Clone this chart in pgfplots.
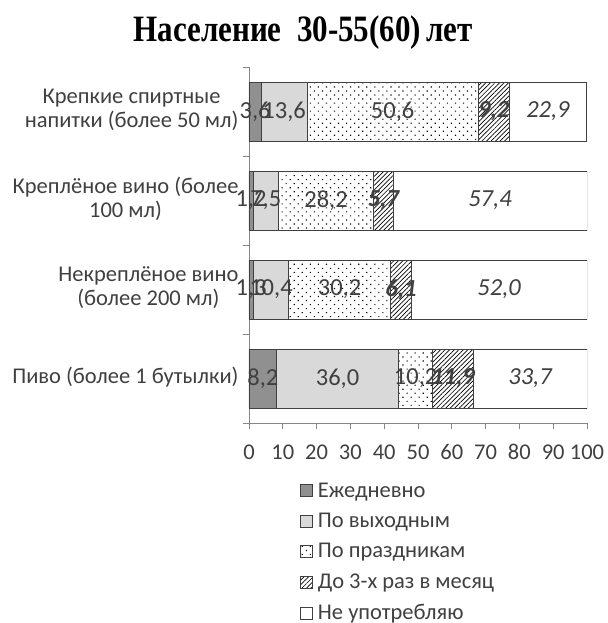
\documentclass[border=0pt]{standalone}
\usepackage{fontspec}
\setmainfont{Carlito}
\newfontfamily\titlefont{Liberation Serif}
\usepackage{pgfplots}
\pgfplotsset{compat=1.18}
\usepackage{pgfplotstable}
\usetikzlibrary{patterns.meta}
\newcommand\f{\fontsize{22.5bp}{24bp}\selectfont}
\newcommand\fb{\fontsize{24.5bp}{26bp}\selectfont}
\definecolor{labc}{HTML}{404040}
\definecolor{daily}{HTML}{909090}
\definecolor{wkend}{HTML}{D9D9D9}
\definecolor{edgec}{HTML}{404040}
\definecolor{axc}{HTML}{868686}

\pgfplotstableread{
cat d w h m n
0 8.2 36.0 10.2 11.9 33.7
1 1.3 10.4 30.2 6.1 52.0
2 1.2 7.5 28.2 5.7 57.4
3 3.6 13.6 50.6 9.2 22.9
}\datatable

\pgfplotsset{
  seglabel/.style={
    point meta=x,
    visualization depends on={\thisrow{#1}\as\val},
    nodes near coords={\pgfmathprintnumber[fixed,fixed zerofill,precision=1,use comma]{\val}},
    every node near coord/.append style={anchor=center, text=labc, font=\fb},
  },
}

\begin{document}
\begin{tikzpicture}
\useasboundingbox (-249bp,-200bp) rectangle (359bp,423bp);
\begin{axis}[
  at={(0,0)}, anchor=south west,
  scale only axis, width=338bp, height=356bp,
  xbar stacked, bar width=59bp,
  xmin=0, xmax=100, ymin=-0.5, ymax=3.5,
  axis x line=bottom, axis y line=left,
  axis line style={-, axc, line width=0.8bp},
  xtick={0,10,...,100},
  ytick={0,1,2,3},
  yticklabels={{Пиво (более 1 бутылки)},{Некреплёное вино\\(более 200 мл)},{Креплёное вино (более\\100 мл)},{Крепкие спиртные\\напитки (более 50 мл)}},
  yticklabel style={align=center, font=\f, text=labc, xshift=-1bp, yshift=1.5bp},
  xticklabel style={font=\f, text=labc, yshift=-12bp},
  /pgf/number format/assume math mode=true,
  major y tick style={draw=none},
  minor ytick={-0.5,0.5,1.5,2.5,3.5},
  minor y tick style={axc, line width=0.8bp},
  major x tick style={axc, line width=0.8bp},
  tick align=outside,
  major tick length=6bp, minor tick length=6bp,
  title={\titlefont\bfseries\fontsize{31bp}{34bp}\selectfont\scalebox{1}[1.2]{Население\ \ 30-55(60)\,лет}},
  title style={at={(axis description cs:0.16,1.08)}, anchor=center},
  legend style={draw=none, fill=none, font=\f, text=labc, at={(axis description cs:0.142,-0.156)}, anchor=north west, row sep=10.5bp, legend cell align=left, /tikz/every odd column/.style={column sep=3bp}},
  legend image code/.code={\draw[#1] (0bp,-6bp) rectangle (12bp,6bp);},
]
\addplot[fill=daily, draw=edgec, line width=0.8bp, seglabel=d] table[x=d, y=cat] \datatable;
\addplot[fill=wkend, draw=edgec, line width=0.8bp, seglabel=w] table[x=w, y=cat] \datatable;
\addplot[pattern={Dots[distance=5.7bp, angle=45, radius=0.8bp]}, pattern color=black, draw=edgec, line width=0.8bp, seglabel=h] table[x=h, y=cat] \datatable;
\addplot[pattern={Lines[angle=45, distance=3.2bp, line width=0.7bp]}, pattern color=black, draw=edgec, line width=0.8bp, seglabel=m, every node near coord/.append style={font=\fb\bfseries\itshape}] table[x=m, y=cat] \datatable;
\addplot[fill=white, draw=edgec, line width=0.8bp, seglabel=n, every node near coord/.append style={font=\fb\itshape}] table[x=n, y=cat] \datatable;
\legend{Ежедневно, По выходным, По праздникам, До 3-х раз в месяц, Не употребляю}
\end{axis}
\end{tikzpicture}
\end{document}
